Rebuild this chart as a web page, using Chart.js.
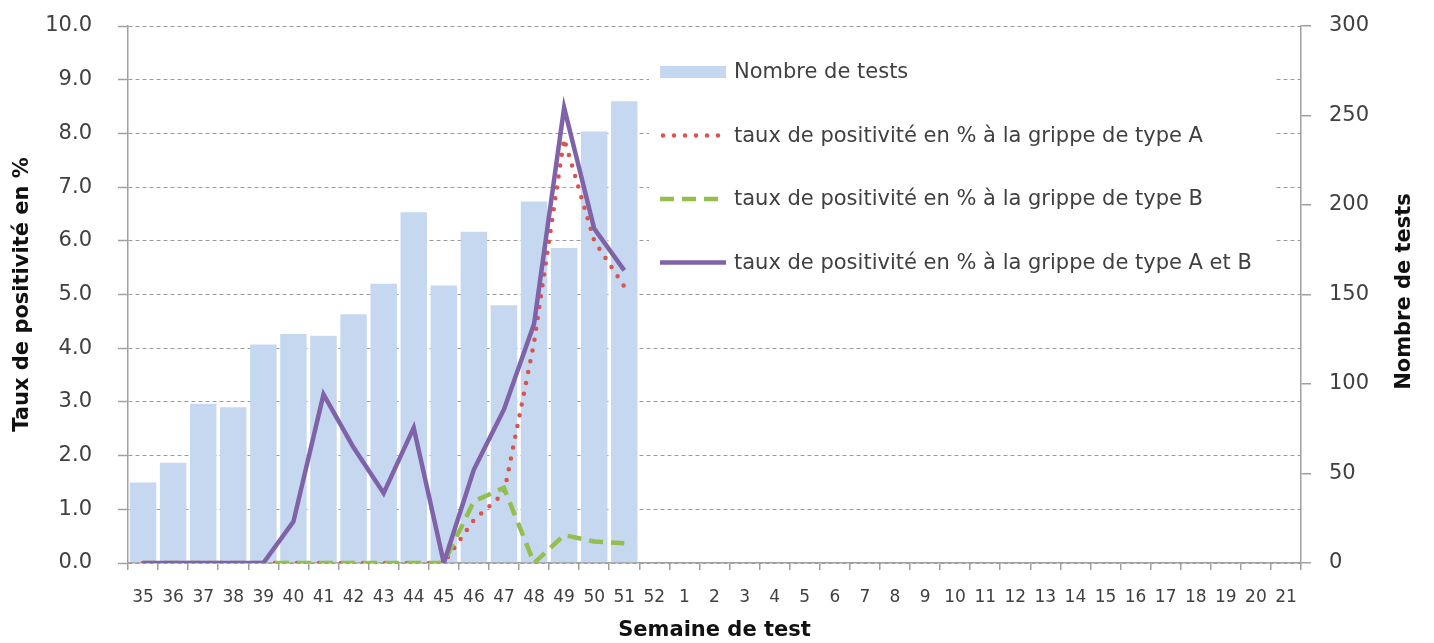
<!DOCTYPE html>
<html>
<head>
<meta charset="utf-8">
<script src="https://cdn.jsdelivr.net/npm/chart.js@4.4.1/dist/chart.umd.min.js"></script>
<style>
html,body{margin:0;padding:0;background:#ffffff;overflow:hidden;}
canvas{display:block;}
</style>
</head>
<body>
<canvas id="chart" width="1434" height="643"></canvas>
<script>
// ---- Data ----
const weeks = ['35','36','37','38','39','40','41','42','43','44','45','46','47','48','49','50','51','52',
  '1','2','3','4','5','6','7','8','9','10','11','12','13','14','15','16','17','18','19','20','21'];

const nombreTests = [45,56,89,87,122,128,127,139,156,196,155,185,144,202,176,241,258,
  null,null,null,null,null,null,null,null,null,null,null,null,null,null,null,null,null,null,null,null,null];

const tauxA = [0,0,0,0,0,0,0,0,0,0,0,0.8,1.3,4.1,7.9,6.0,5.15,
  null,null,null,null,null,null,null,null,null,null,null,null,null,null,null,null,null,null,null,null,null];

const tauxB = [0,0,0,0,0,0,0,0,0,0,0,1.15,1.4,0,0.52,0.4,0.37,
  null,null,null,null,null,null,null,null,null,null,null,null,null,null,null,null,null,null,null,null,null];

const tauxAB = [0,0,0,0,0,0.77,3.14,2.15,1.3,2.52,0,1.74,2.86,4.45,8.48,6.23,5.45,
  null,null,null,null,null,null,null,null,null,null,null,null,null,null,null,null,null,null,null,null,null];

const leftTicks = {min:0, max:10, step:1};
const rightTicks = {min:0, max:300, step:50};

const labels = {
  bars: 'Nombre de tests',
  a: 'taux de positivité en % à la grippe de type A',
  b: 'taux de positivité en % à la grippe de type B',
  ab: 'taux de positivité en % à la grippe de type A et B',
  xTitle: 'Semaine de test',
  yTitle: 'Taux de positivité en %',
  y1Title: 'Nombre de tests'
};

// ---- Styles ----
const FONT = 'DejaVu Sans';
const TXT = '#404040';
const AXIS = '#a0a0a0';
const GRID = '#9a9a9a';

const legendPlugin = {
  id: 'boxLegend',
  beforeDatasetsDraw(chart, args, opts) {
    const ctx = chart.ctx;
    ctx.save();
    ctx.fillStyle = '#ffffff';
    ctx.fillRect(opts.box[0], opts.box[1], opts.box[2], opts.box[3]);
    ctx.font = opts.size + 'px "' + FONT + '"';
    ctx.textBaseline = 'middle';
    ctx.textAlign = 'left';
    chart.data.datasets.forEach((ds, i) => {
      const y = opts.firstY + i * opts.gap;
      const x0 = opts.symX, x1 = opts.symX + opts.symW;
      if (ds.type === 'line') {
        ctx.save();
        ctx.strokeStyle = ds.borderColor;
        ctx.lineWidth = ds.borderWidth;
        ctx.lineCap = ds.borderCapStyle || 'butt';
        ctx.setLineDash(ds.borderDash || []);
        ctx.beginPath();
        ctx.moveTo(x0 + (ds.borderCapStyle === 'round' ? 3 : 0), y);
        ctx.lineTo(x1, y);
        ctx.stroke();
        ctx.restore();
      } else {
        ctx.fillStyle = ds.backgroundColor;
        ctx.fillRect(x0, y - 6, opts.symW, 12);
      }
      ctx.fillStyle = TXT;
      ctx.fillText(ds.label, opts.textX, y + 1);
    });
    ctx.restore();
  },
  afterDraw(chart, args, opts) {
    const ctx = chart.ctx;
    const area = chart.chartArea;
    ctx.save();
    ctx.translate(opts.rightTitleX, (area.top + area.bottom) / 2 - 3);
    ctx.rotate(-Math.PI / 2);
    ctx.font = 'bold 21px "' + FONT + '"';
    ctx.fillStyle = '#111111';
    ctx.textAlign = 'center';
    ctx.textBaseline = 'middle';
    ctx.fillText(labels.y1Title, 0, 0);
    ctx.restore();
  }
};

function noVPad(s) { s.paddingTop = 0; s.paddingBottom = 0; }

new Chart(document.getElementById('chart'), {
  type: 'bar',
  data: {
    labels: weeks,
    datasets: [
      {
        type: 'bar', label: labels.bars, data: nombreTests, yAxisID: 'y1',
        backgroundColor: '#c5d8f0', borderWidth: 0,
        barPercentage: 0.88, categoryPercentage: 1.0, order: 4
      },
      {
        type: 'line', label: labels.a, data: tauxA, yAxisID: 'y',
        borderColor: '#d9534f', borderWidth: 4.5, borderDash: [0, 11], borderCapStyle: 'round',
        pointRadius: 0, tension: 0, fill: false, order: 3
      },
      {
        type: 'line', label: labels.b, data: tauxB, yAxisID: 'y',
        borderColor: '#93bf4f', borderWidth: 4.5, borderDash: [14, 8], borderCapStyle: 'butt',
        pointRadius: 0, tension: 0, fill: false, order: 2
      },
      {
        type: 'line', label: labels.ab, data: tauxAB, yAxisID: 'y',
        borderColor: '#7f62a8', borderWidth: 4.5, borderJoinStyle: 'miter',
        pointRadius: 0, tension: 0, fill: false, order: 1
      }
    ]
  },
  options: {
    responsive: false,
    animation: false,
    devicePixelRatio: 1,
    events: [],
    layout: {padding: {top: 26, left: 0, right: 0, bottom: 0}, autoPadding: false},
    plugins: {
      legend: {display: false},
      tooltip: {enabled: false},
      boxLegend: {
        box: [649, 44, 625, 238],
        firstY: 72, gap: 63.5,
        symX: 660, symW: 66, textX: 734, size: 21,
        rightTitleX: 1405
      }
    },
    scales: {
      x: {
        type: 'category', offset: true,
        grid: {display: true, drawOnChartArea: false, drawTicks: true, tickLength: 7, color: AXIS, lineWidth: 1.5, offset: true},
        border: {display: true, color: AXIS, width: 1.5},
        ticks: {autoSkip: false, maxRotation: 0, minRotation: 0, padding: 17, color: TXT, font: {family: FONT, size: 17}},
        title: {display: true, text: labels.xTitle, color: '#111111', font: {family: FONT, size: 21, weight: 'bold'}, padding: {top: 0, bottom: 0}},
        afterFit(s) { s.height = 80; }
      },
      y: {
        position: 'left', min: leftTicks.min, max: leftTicks.max,
        ticks: {stepSize: leftTicks.step, padding: 26, color: TXT, font: {family: FONT, size: 21}, callback: v => Number(v).toFixed(1)},
        grid: {color: GRID, lineWidth: 1, tickColor: AXIS, tickLength: 10, tickWidth: 1.5},
        border: {display: true, color: AXIS, width: 1.5, dash: [4, 3]},
        title: {display: true, text: labels.yTitle, color: '#111111', font: {family: FONT, size: 21, weight: 'bold'}, padding: {top: 10, bottom: 0}},
        afterFit(s) { s.width = 128; noVPad(s); }
      },
      y1: {
        position: 'right', min: rightTicks.min, max: rightTicks.max,
        ticks: {stepSize: rightTicks.step, padding: 18, color: TXT, font: {family: FONT, size: 21}},
        grid: {drawOnChartArea: false, drawTicks: true, tickLength: 10, color: AXIS, lineWidth: 1.5},
        border: {display: true, color: AXIS, width: 1.5},
        afterFit(s) { s.width = 133; noVPad(s); }
      }
    }
  },
  plugins: [legendPlugin]
});
</script>
</body>
</html>
